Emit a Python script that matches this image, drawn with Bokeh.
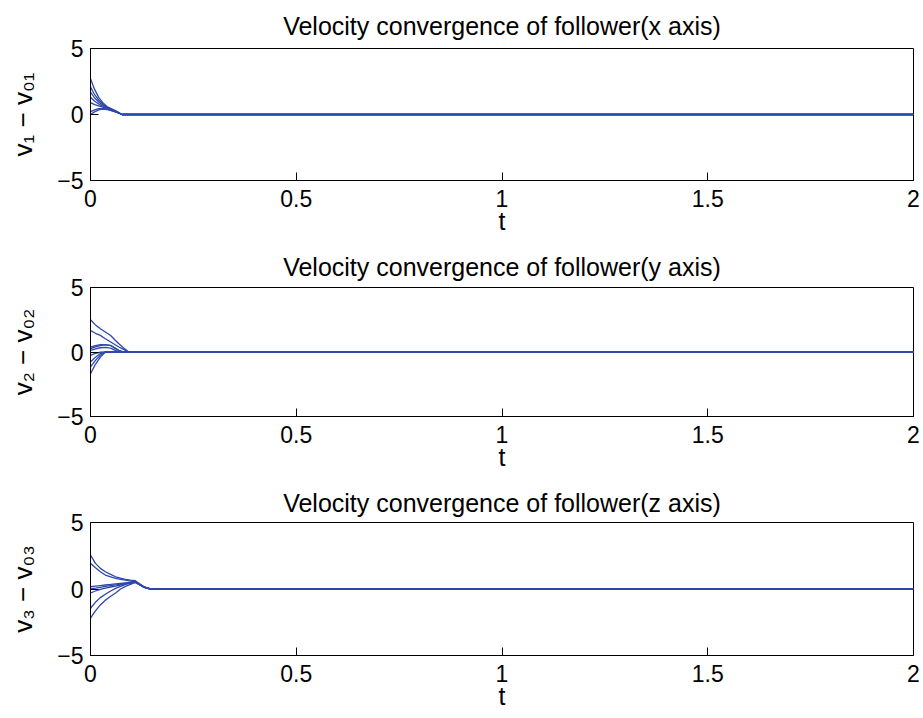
from bokeh.plotting import figure
from bokeh.layouts import column
from bokeh.embed import file_html
from bokeh.resources import INLINE
from bokeh.models import FixedTicker

# ---- data ----
titles = ["Velocity convergence of follower(x axis)",
          "Velocity convergence of follower(y axis)",
          "Velocity convergence of follower(z axis)"]
ylabels = ["v\u2081 \u2212 v\u2080\u2081", "v\u2082 \u2212 v\u2080\u2082", "v\u2083 \u2212 v\u2080\u2083"]
x_ticks = [0, 0.5, 1, 1.5, 2]
x_tick_labels = ["0", "0.5", "1", "1.5", "2"]
y_ticks = [-5, 0, 5]
y_tick_labels = ["\u22125", "0", "5"]

t1 = [0, 0.01, 0.02, 0.03, 0.04, 0.06, 0.077, 2.0]
x_curves = [
    [2.7, 1.9, 1.3, 0.9, 0.6, 0.3, 0.0, 0.0],
    [2.1, 1.5, 1.1, 0.8, 0.55, 0.28, 0.0, 0.0],
    [1.7, 1.25, 0.95, 0.7, 0.5, 0.26, 0.0, 0.0],
    [1.3, 1.0, 0.8, 0.6, 0.48, 0.25, 0.0, 0.0],
    [0.9, 0.75, 0.65, 0.55, 0.45, 0.24, 0.0, 0.0],
    [0.2, 0.35, 0.45, 0.45, 0.4, 0.22, 0.0, 0.0],
    [0.0, 0.2, 0.35, 0.4, 0.38, 0.2, 0.0, 0.0],
]

t2 = [0, 0.012, 0.024, 0.036, 0.049, 0.059, 0.069, 0.08, 0.093, 2.0]
y_curves = [
    [2.5, 2.1, 1.8, 1.55, 1.28, 0.95, 0.64, 0.33, 0.0, 0.0],
    [1.67, 1.45, 1.29, 1.03, 0.78, 0.58, 0.39, 0.2, 0.0, 0.0],
    [0.37, 0.5, 0.57, 0.55, 0.52, 0.33, 0.13, 0.0, 0.0, 0.0],
    [0.26, 0.4, 0.5, 0.57, 0.5, 0.3, 0.1, 0.0, 0.0, 0.0],
    [0.13, 0.25, 0.33, 0.36, 0.3, 0.15, 0.0, 0.0, 0.0, 0.0],
    [-0.26, -0.1, -0.02, 0.0, 0.0, 0.0, 0.0, 0.0, 0.0, 0.0],
    [-0.78, -0.4, -0.12, 0.0, 0.0, 0.0, 0.0, 0.0, 0.0, 0.0],
    [-1.16, -0.65, -0.25, 0.0, 0.0, 0.0, 0.0, 0.0, 0.0, 0.0],
    [-1.68, -0.95, -0.4, 0.0, 0.0, 0.0, 0.0, 0.0, 0.0, 0.0],
]

t3 = [0, 0.012, 0.024, 0.036, 0.049, 0.061, 0.073, 0.085, 0.097, 0.109, 0.13, 0.146, 2.0]
z_curves = [
    [2.55, 1.93, 1.55, 1.3, 1.1, 0.92, 0.82, 0.73, 0.67, 0.62, 0.17, 0.0, 0.0],
    [1.93, 1.6, 1.3, 1.05, 0.92, 0.8, 0.73, 0.67, 0.6, 0.55, 0.15, 0.0, 0.0],
    [0.17, 0.22, 0.26, 0.3, 0.34, 0.38, 0.42, 0.46, 0.5, 0.53, 0.14, 0.0, 0.0],
    [0.0, 0.06, 0.13, 0.2, 0.26, 0.31, 0.37, 0.42, 0.47, 0.52, 0.14, 0.0, 0.0],
    [-0.3, -0.15, -0.03, 0.07, 0.15, 0.22, 0.3, 0.38, 0.45, 0.5, 0.13, 0.0, 0.0],
    [-1.45, -1.0, -0.65, -0.4, -0.15, 0.05, 0.2, 0.35, 0.45, 0.53, 0.14, 0.0, 0.0],
    [-2.2, -1.65, -1.2, -0.85, -0.55, -0.3, 0.0, 0.2, 0.35, 0.5, 0.13, 0.0, 0.0],
]

panels = [(t1, x_curves), (t2, y_curves), (t3, z_curves)]

# ---- layout ----
FONT = "Liberation Sans"
LINE = "#2e47ab"
heights = [243, 236, 239]
borders_top = [48, 44, 43]
borders_bottom = [63, 63, 63]
title_standoffs = [17, 13, 12]

figs = []
for i, (t, curves) in enumerate(panels):
    p = figure(width=923, height=heights[i], x_range=(0, 2), y_range=(-5, 5),
               output_backend="svg", toolbar_location=None,
               min_border_left=90, min_border_right=10,
               min_border_top=borders_top[i], min_border_bottom=borders_bottom[i])
    for c in curves:
        p.line(t, c, line_color=LINE, line_width=1.3)
    p.title.text = titles[i]
    p.title.align = "center"
    p.title.text_font = FONT
    p.title.text_font_size = "25px"
    p.title.text_font_style = "normal"
    p.title.text_color = "black"
    p.title.standoff = title_standoffs[i]
    p.xaxis.axis_label = "t"
    p.yaxis.axis_label = ylabels[i]
    p.xaxis.ticker = FixedTicker(ticks=x_ticks)
    p.yaxis.ticker = FixedTicker(ticks=y_ticks)
    p.xaxis.major_label_overrides = {k: v for k, v in zip(x_ticks, x_tick_labels)}
    p.yaxis.major_label_overrides = {k: v for k, v in zip(y_ticks, y_tick_labels)}
    for ax in (p.xaxis[0], p.yaxis[0]):
        ax.axis_label_text_font = FONT
        ax.axis_label_text_font_size = "25px"
        ax.axis_label_text_font_style = "normal"
        ax.major_label_text_font = FONT
        ax.major_label_text_font_size = "23px"
        ax.major_tick_in = 8
        ax.major_tick_out = 0
        ax.minor_tick_in = 0
        ax.minor_tick_out = 0
        ax.axis_line_color = "black"
        ax.major_tick_line_color = "black"
        ax.major_label_text_color = "black"
        ax.axis_label_text_color = "black"
    p.yaxis.axis_label_text_font_size = "26px"
    p.xaxis.major_label_standoff = 9
    p.xaxis.axis_label_standoff = -3
    p.yaxis.major_label_standoff = 7
    p.yaxis.axis_label_standoff = 16
    p.xgrid.visible = False
    p.ygrid.visible = False
    p.outline_line_color = "black"
    p.outline_line_alpha = 1
    p.background_fill_color = "white"
    p.border_fill_color = "white"
    figs.append(p)

layout = column(*figs, spacing=0)
open("out.html", "w").write(file_html(layout, INLINE))
